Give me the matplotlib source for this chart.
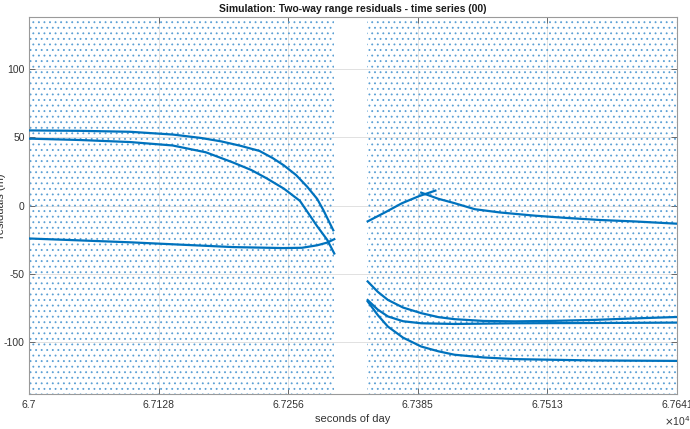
import numpy as np
import matplotlib.pyplot as plt

# residual tracks (time in seconds of day, residual in m)
t_a = [67000, 67050, 67100, 67142, 67170, 67190, 67209, 67228, 67241, 67252, 67264, 67275, 67285, 67291, 67301]
v_a = [55, 54.7, 54, 52, 49.5, 47, 43.8, 40, 34.8, 29.5, 22.5, 14, 5, -3, -18]

t_b = [67000, 67050, 67100, 67142, 67175, 67202, 67220, 67235, 67252, 67268, 67285, 67295, 67302]
v_b = [49, 48, 46.5, 44, 39, 31.5, 26, 20, 12.5, 3.5, -15, -25, -35]

t_c = [67000, 67100, 67202, 67251, 67270, 67285, 67295, 67302]
v_c = [-24, -26.8, -30.3, -31, -30.8, -29, -27, -24.5]

t_e = [67335, 67352, 67369, 67386, 67402]
v_e = [-11.5, -5, 1.8, 7, 11]

t_d = [67388, 67405, 67421, 67441, 67466, 67500, 67532, 67565, 67598, 67641]
v_d = [9.5, 5, 1.8, -2.6, -5, -7.3, -9, -10.5, -11.5, -13.2]

t_f = [67335, 67345, 67355, 67370, 67388, 67405, 67421, 67450, 67481, 67520, 67560, 67600, 67641]
v_f = [-55.4, -63, -68.9, -74.5, -78.6, -81.5, -83, -84.3, -84.6, -84.2, -83.5, -82.4, -81.4]

t_g = [67335, 67345, 67355, 67370, 67388, 67421, 67481, 67560, 67641]
v_g = [-69, -76, -81, -84.5, -86, -86.5, -86, -85.8, -85.5]

t_h = [67335, 67345, 67355, 67370, 67388, 67405, 67421, 67450, 67481, 67560, 67641]
v_h = [-70, -80, -88.4, -96.5, -103, -106.5, -109, -111, -112.2, -113.2, -113.5]

# time spans covered by the scattered outlier residuals
noise_start = [67000, 67334]
noise_end = [67302, 67641]

x_ticks = [67000, 67128.2, 67256.4, 67384.6, 67512.8, 67641]
x_labels = ['6.7', '6.7128', '6.7256', '6.7385', '6.7513', '6.7641']
y_ticks = [-100, -50, 0, 50, 100]

plt.rcParams['font.family'] = ['Liberation Sans', 'DejaVu Sans']
plt.rcParams['axes.unicode_minus'] = False
plt.rcParams['hatch.linewidth'] = 0.6

blue = '#0072BD'

fig = plt.figure(figsize=(6.9, 4.29), dpi=100)
ax = fig.add_axes([29 / 690, 1 - 394 / 429, 648 / 690, (394 - 17.3) / 429])

# outlier cloud drawn as a dotted texture over each span
for t0, t1 in zip(noise_start, noise_end):
    ax.axvspan(t0, t1, facecolor='none', edgecolor='#5a9fd4', hatch='...',
               linewidth=0, zorder=1)

for t, v in [(t_a, v_a), (t_b, v_b), (t_c, v_c), (t_e, v_e),
             (t_d, v_d), (t_f, v_f), (t_g, v_g), (t_h, v_h)]:
    ax.plot(t, v, color=blue, linewidth=1.6, zorder=3)

ax.set_xlim(67000, 67641)
ax.set_ylim(-137.7, 137.7)
ax.set_xticks(x_ticks)
ax.set_xticklabels(x_labels)
ax.set_yticks(y_ticks)

ax.grid(True, color='#dcdcdc', linewidth=0.6, zorder=0)
ax.set_axisbelow(True)
ax.tick_params(direction='in', length=4, width=0.6, color='#555555',
               labelsize=7.5, labelcolor='#333333', top=True, right=True, pad=3)
ax.tick_params(axis='x', pad=4)
for s in ax.spines.values():
    s.set_color('#9a9a9a')
    s.set_linewidth(0.8)

ax.set_title('Simulation: Two-way range residuals - time series (00)',
             fontsize=7.5, fontweight='bold', color='#1a1a1a', pad=4)
ax.set_xlabel('seconds of day', fontsize=8, color='#333333', labelpad=3)
fig.text(1 / 690, 0.52, 'residuals (m)', rotation=90, ha='center', va='center',
         fontsize=8, color='#333333')
fig.text(664 / 690, 1 - 421 / 429, r'$\times$10$^4$', ha='left', va='center',
         fontsize=7.5, color='#333333')

plt.savefig('out.png', dpi=100)
